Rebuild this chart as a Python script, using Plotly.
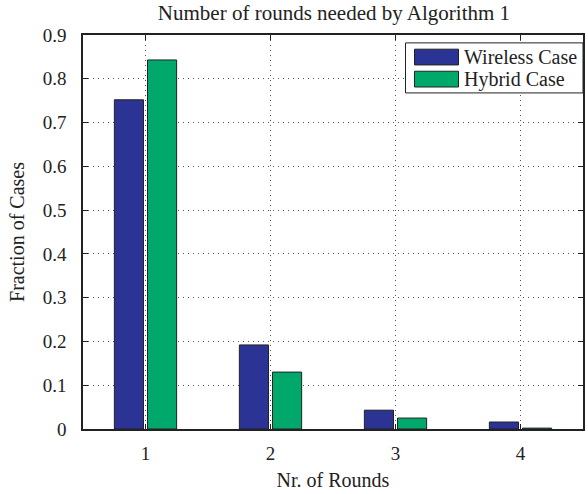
import plotly.graph_objects as go

rounds = [1, 2, 3, 4]
wireless = [0.752, 0.192, 0.043, 0.016]
hybrid = [0.843, 0.130, 0.025, 0.002]
series_names = ["Wireless Case", "Hybrid Case"]
colors = ["#2B3494", "#00A86B"]
y_ticks = [0, 0.1, 0.2, 0.3, 0.4, 0.5, 0.6, 0.7, 0.8, 0.9]
y_tick_text = ["0", "0.1", "0.2", "0.3", "0.4", "0.5", "0.6", "0.7", "0.8", "0.9"]

FONT = "Liberation Serif, Times New Roman, serif"
INK = "#222222"

fig = go.Figure()
for name, vals, col in zip(series_names, [wireless, hybrid], colors):
    fig.add_trace(go.Bar(x=rounds, y=vals, name=name, showlegend=False,
                         marker=dict(color=col, line=dict(color=INK, width=1))))

# Manual legend (box with wide swatches, MATLAB style)
fig.add_shape(type="rect", xref="paper", yref="paper", x0=0.645, x1=1.0, y0=0.853, y1=0.980,
              line=dict(color=INK, width=1), fillcolor="white", layer="above")
sw_y = [(0.924, 0.964), (0.868, 0.908)]
for (y0, y1), name, col in zip(sw_y, series_names, colors):
    fig.add_shape(type="rect", xref="paper", yref="paper", x0=0.663, x1=0.751, y0=y0, y1=y1,
                  line=dict(color=INK, width=1), fillcolor=col, layer="above")
    fig.add_annotation(xref="paper", yref="paper", x=0.757, y=(y0 + y1) / 2, text=name,
                       showarrow=False, xanchor="left", yanchor="middle",
                       font=dict(family=FONT, size=20, color=INK))

fig.update_layout(
    width=588, height=494,
    margin=dict(l=83, r=3, t=35, b=65),
    paper_bgcolor="white", plot_bgcolor="white",
    barmode="group", bargap=0.47, bargroupgap=0.12,
    font=dict(family=FONT, size=19, color=INK),
    title=dict(text="Number of rounds needed by Algorithm 1", x=0.568, xanchor="center",
               y=0.975, yanchor="middle", font=dict(family=FONT, size=21, color=INK)),
    showlegend=False,
)
axis_common = dict(showline=True, linecolor=INK, linewidth=1.5, mirror="ticks",
                   ticks="inside", ticklen=5, tickcolor=INK,
                   showgrid=True, gridcolor="#555555", griddash="1px,4px", gridwidth=1,
                   zeroline=False, tickfont=dict(family=FONT, size=19, color=INK))
fig.update_xaxes(range=[0.5, 4.5], tickvals=rounds, ticktext=[str(r) for r in rounds],
                 ticklabelstandoff=6,
                 title=dict(text="Nr. of Rounds", standoff=10,
                            font=dict(family=FONT, size=20, color=INK)),
                 **axis_common)
fig.update_yaxes(range=[0, 0.9], tickvals=y_ticks, ticktext=y_tick_text,
                 ticklabelstandoff=11,
                 title=dict(text="Fraction of Cases", standoff=13,
                            font=dict(family=FONT, size=20, color=INK)),
                 **axis_common)

fig.write_html("out.html")
